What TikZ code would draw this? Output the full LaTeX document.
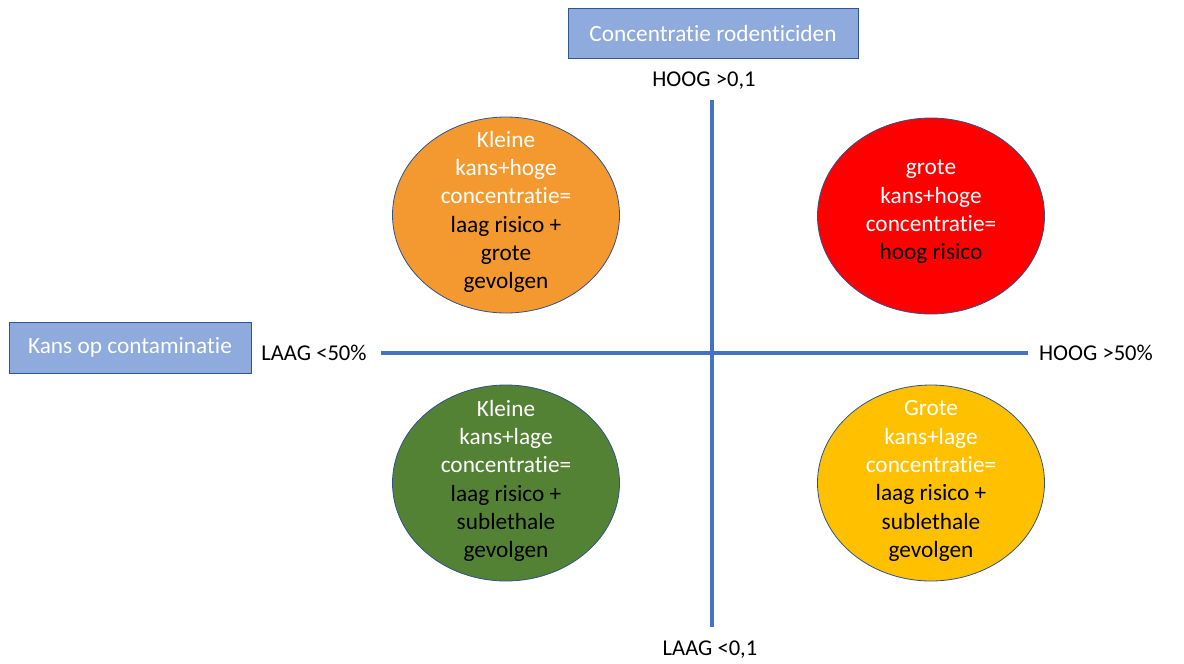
\documentclass[tikz,border=0pt]{standalone}
\usepackage{fontspec}
\setmainfont{Carlito}[Ligatures=NoCommon]
\usetikzlibrary{shapes.geometric}

\definecolor{axisblue}{HTML}{4472C4}
\definecolor{boxfill}{HTML}{8FAADC}
\definecolor{boxline}{HTML}{2F5597}
\definecolor{rimblue}{HTML}{2F528F}
\definecolor{oranje}{HTML}{F4992F}
\definecolor{rood}{HTML}{FF0000}
\definecolor{groen}{HTML}{548235}
\definecolor{geel}{HTML}{FFC000}

\tikzset{
  axis/.style={draw=axisblue, line width=4pt},
  titlebox/.style={draw=boxline, fill=boxfill, text=white, line width=0.6pt,
    inner sep=0pt, font=\fontsize{23.3}{28}\selectfont},
  axislabel/.style={text=black, inner sep=0pt, font=\fontsize{22.6}{28}\selectfont},
  quadrant/.style={ellipse, draw=rimblue, line width=0.8pt,
    minimum width=227pt, minimum height=196pt, inner sep=0pt},
  quadtext/.style={text=white, inner sep=0pt, align=center,
    font=\fontsize{23.3}{28.3}\selectfont}
}
\newcommand{\zw}[1]{\textcolor{black}{#1}}

\begin{document}
\begin{tikzpicture}[x=1pt, y=-1pt]
\useasboundingbox (0,0) rectangle (1184,664);

% axes
\coordinate (top) at (712,100);
\coordinate (bottom) at (712,627);
\coordinate (left) at (381,353);
\coordinate (right) at (1028,353);
\draw[axis] (top) -- (bottom);
\draw[axis] (left) -- (right);

% titles
\node[titlebox, minimum width=290pt, minimum height=50pt] (conc) at (713,33) {Concentratie rodenticiden};
\node[titlebox, minimum width=242pt, minimum height=51pt] (kans) at (130,347.5) {Kans op contaminatie};

% axis ends
\node[axislabel] (hoogy) at (704,81) {HOOG >0,1};
\node[axislabel] (laagy) at (710,650) {LAAG <0,1};
\node[axislabel] (laagx) at (314,353) {LAAG <50\%};
\node[axislabel] (hoogx) at (1096,353) {HOOG >50\%};

% quadrants
\node[quadrant, fill=oranje] (klhoog) at (506,215) {};
\node[quadrant, fill=rood] (grhoog) at (931,216) {};
\node[quadrant, fill=groen] (kllaag) at (506,483) {};
\node[quadrant, fill=geel] (grlaag) at (931,483) {};

\node[quadtext] (klhoogtxt) at ([yshift=3pt]klhoog.center)
  {Kleine\\kans+hoge\\concentratie=\\\zw{laag risico +}\\\zw{grote}\\\zw{gevolgen}};
\node[quadtext] (grhoogtxt) at ([yshift=4pt]grhoog.center)
  {grote\\kans+hoge\\concentratie=\\\zw{hoog risico}};
\node[quadtext] (kllaagtxt) at ([yshift=2pt]kllaag.center)
  {Kleine\\kans+lage\\concentratie=\\\zw{laag risico +}\\\zw{sublethale}\\\zw{gevolgen}};
\node[quadtext] (grlaagtxt) at ([yshift=2pt]grlaag.center)
  {Grote\\kans+lage\\concentratie=\\\zw{laag risico +}\\\zw{sublethale}\\\zw{gevolgen}};
\end{tikzpicture}
\end{document}
